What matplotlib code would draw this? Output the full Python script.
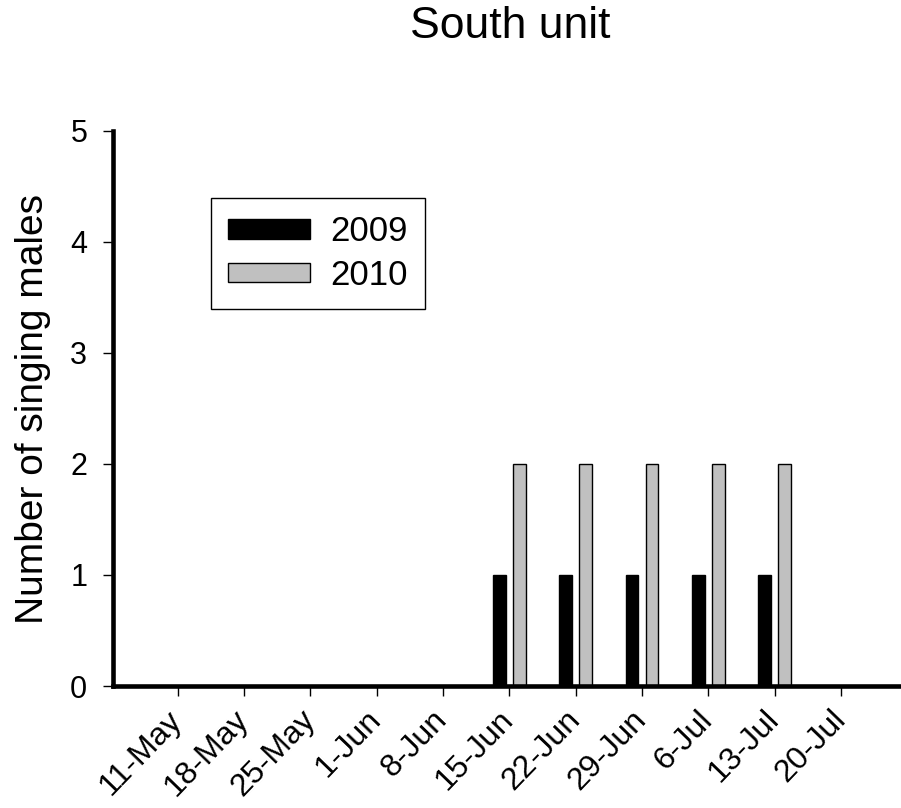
import numpy as np
import matplotlib
matplotlib.use("Agg")
from matplotlib import pyplot as plt

plt.rcParams["font.family"] = ["Liberation Sans", "DejaVu Sans"]

# ---- data ----
weeks = ["11-May", "18-May", "25-May", "1-Jun", "8-Jun", "15-Jun",
         "22-Jun", "29-Jun", "6-Jul", "13-Jul", "20-Jul"]
males_2009 = [0, 0, 0, 0, 0, 1, 1, 1, 1, 1, 0]
males_2010 = [0, 0, 0, 0, 0, 2, 2, 2, 2, 2, 0]
y_ticks = [0, 1, 2, 3, 4, 5]

fig = plt.figure(figsize=(9.01, 8.08), dpi=100)
ax = fig.add_axes([113 / 901, 1 - 686 / 808, 786 / 901, 555 / 808])

x = np.arange(len(weeks))
w = 0.19
ax.bar(x - 0.15, males_2009, width=w, color="black", edgecolor="black",
       linewidth=1, label="2009")
ax.bar(x + 0.15, males_2010, width=w, color="#c0c0c0", edgecolor="black",
       linewidth=1, label="2010")

ax.set_xlim(-0.975, 10.875)
ax.set_ylim(0, 5)
ax.set_yticks(y_ticks)
ax.set_xticks(x)
ax.set_xticklabels(weeks, rotation=46, ha="right", va="center",
                   rotation_mode="anchor")

# ---- spines / ticks ----
for s in ("top", "right"):
    ax.spines[s].set_visible(False)
for s in ("left", "bottom"):
    ax.spines[s].set_linewidth(3.3)
ax.tick_params(axis="both", direction="out", length=7, width=1)
ax.tick_params(axis="y", labelsize=22, pad=11.5)
ax.tick_params(axis="x", labelsize=23, pad=14)

ax.set_ylabel("Number of singing males", fontsize=28)
ax.yaxis.set_label_coords(-0.079, 0.5)

fig.text(510 / 901, 1 - 27 / 808, "South unit", fontsize=32,
         ha="center", va="center")

leg = ax.legend(loc="upper left", bbox_to_anchor=(211 / 901, 1 - 198 / 808),
                bbox_transform=fig.transFigure, fontsize=25, frameon=True,
                fancybox=False, edgecolor="black", framealpha=1,
                handlelength=2.35, handleheight=0.5, handletextpad=0.58,
                borderpad=0.5, labelspacing=0.3, borderaxespad=0)
leg.get_frame().set_linewidth(1)

fig.savefig("out.png", dpi=100)
